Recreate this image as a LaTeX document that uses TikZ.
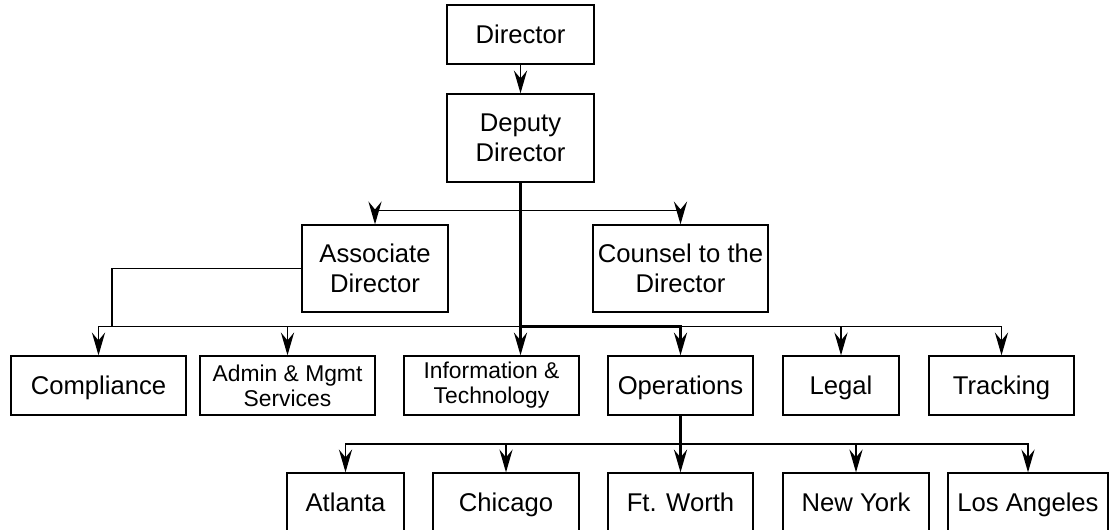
\documentclass[tikz,border=0pt]{standalone}
\usepackage{fontspec}
\setmainfont{Liberation Sans}
\usetikzlibrary{arrows.meta}

\tikzset{
  box/.style={draw, line width=0.75pt, align=center, inner sep=2pt,
    font=\fontsize{14.6}{17}\selectfont},
  onebox/.style={box, text height=10.5pt, text depth=0pt},
  smallbox/.style={box, font=\fontsize{13}{14.2}\selectfont},
  link/.style={line width=0.75pt, -{Stealth[length=13pt,width=7.5pt,inset=4.5pt]}},
  trunk/.style={link, line width=1.3pt},
}

\begin{document}
\begin{tikzpicture}
  \useasboundingbox (0,0) rectangle (22.2,-10.58);
  % head office
  \node[onebox, minimum width=2.94cm, minimum height=1.18cm] (dir) at (10.41,-0.69) {Director};
  \node[box, minimum width=2.94cm, minimum height=1.76cm] (dep) at (10.41,-2.76) {Deputy\\Director};
  \node[box, minimum width=2.92cm, minimum height=1.74cm] (assoc) at (7.50,-5.37) {Associate\\Director};
  \node[box, minimum width=3.50cm, minimum height=1.74cm] (counsel) at (13.61,-5.37) {Counsel to the\\Director};
  % divisions
  \node[onebox, minimum width=3.50cm, minimum height=1.18cm] (comp) at (1.97,-7.71) {Compliance};
  \node[smallbox, minimum width=3.50cm, minimum height=1.18cm] (admin) at (5.75,-7.71) {Admin \& Mgmt\\Services};
  \node[smallbox, minimum width=3.50cm, minimum height=1.18cm] (info) at (9.83,-7.71) {Information \&\\Technology};
  \node[onebox, minimum width=2.90cm, minimum height=1.18cm] (ops) at (13.61,-7.71) {Operations};
  \node[onebox, minimum width=2.32cm, minimum height=1.18cm] (legal) at (16.82,-7.71) {Legal};
  \node[onebox, minimum width=2.90cm, minimum height=1.18cm] (track) at (20.03,-7.71) {Tracking};
  % field offices
  \node[onebox, minimum width=2.34cm, minimum height=1.16cm] (atl) at (6.91,-10.04) {Atlanta};
  \node[onebox, minimum width=2.92cm, minimum height=1.16cm] (chi) at (10.12,-10.04) {Chicago};
  \node[onebox, minimum width=2.90cm, minimum height=1.16cm] (ftw) at (13.61,-10.04) {Ft. Worth};
  \node[onebox, minimum width=2.92cm, minimum height=1.16cm] (ny) at (17.12,-10.04) {New York};
  \node[onebox, minimum width=3.20cm, minimum height=1.16cm] (la) at (20.56,-10.04) {Los Angeles};

  \coordinate (split) at (10.41,-4.21);
  \coordinate (bus) at (10.41,-6.53);
  \coordinate (assoc drop) at (2.24,-6.53);
  \coordinate (field) at (13.61,-8.88);

  \draw[link] (dir) -- (dep);
  \draw[link] (split) -| (assoc);
  \draw[link] (split) -| (counsel);
  \draw[trunk] (dep) -- (dep |- info.north);
  \draw[line width=0.75pt] (assoc) -| (assoc drop);
  \draw[link] (bus) -| (comp);
  \draw[link] (bus) -| (admin);
  \draw[trunk] (bus) -| (ops);
  \draw[link] (bus) -| (legal);
  \draw[link] (bus) -| (track);

  \draw[trunk] (ops) -- (ftw);
  \draw[link] (field) -| (atl);
  \draw[link] (field) -| (chi);
  \draw[trunk] (field) -| (ny);
  \draw[link] (field) -| (la);
\end{tikzpicture}
\end{document}
